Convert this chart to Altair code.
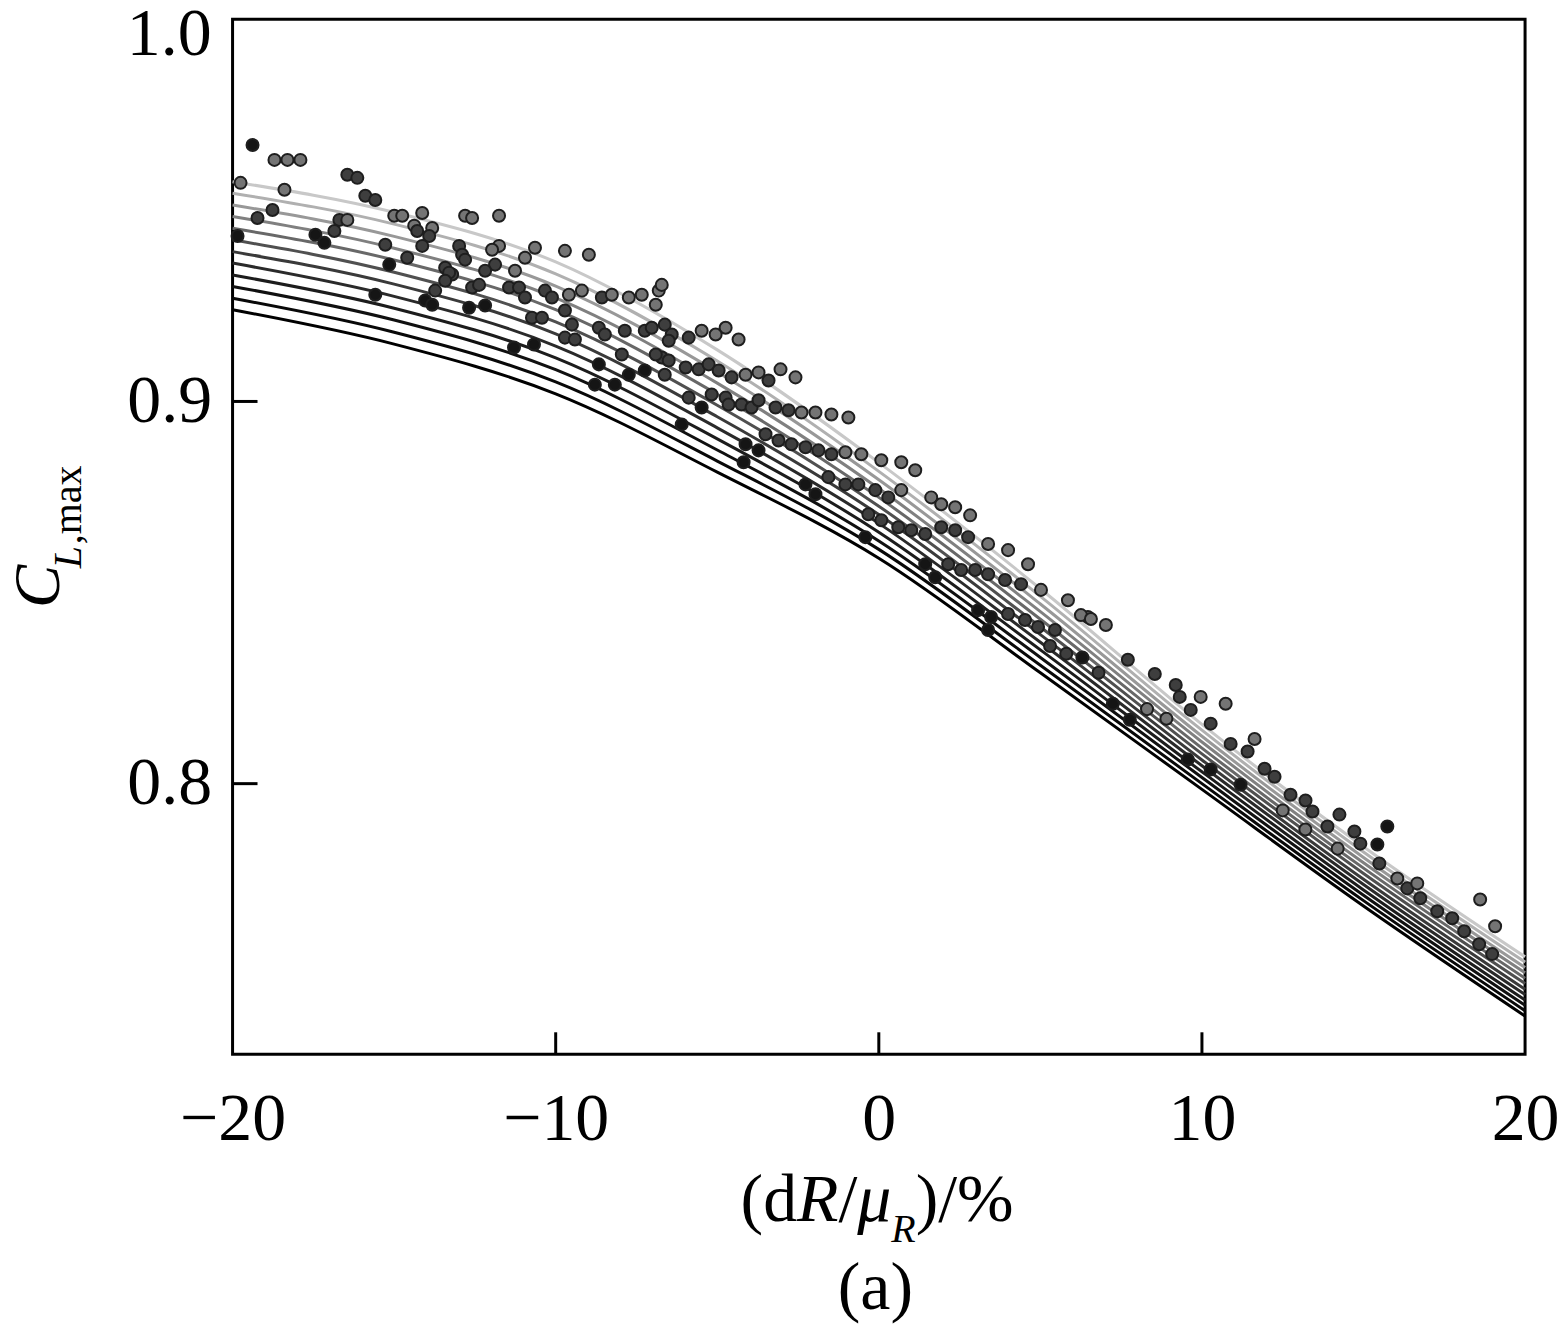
import altair as alt
import pandas as pd

# ---------------- data ----------------
LINE_X = [-20, -15, -10, -5, 0, 5, 10, 15, 20]
LINE_VALUES = [
    [0.9240, 0.9150, 0.9020, 0.8815, 0.8590, 0.8290, 0.7985, 0.7680, 0.7392],
    [0.9270, 0.9181, 0.9051, 0.8844, 0.8613, 0.8310, 0.8000, 0.7694, 0.7406],
    [0.9301, 0.9213, 0.9083, 0.8873, 0.8635, 0.8330, 0.8016, 0.7708, 0.7420],
    [0.9331, 0.9244, 0.9114, 0.8902, 0.8658, 0.8350, 0.8031, 0.7722, 0.7434],
    [0.9362, 0.9275, 0.9145, 0.8931, 0.8681, 0.8370, 0.8047, 0.7736, 0.7448],
    [0.9392, 0.9307, 0.9177, 0.8960, 0.8704, 0.8390, 0.8062, 0.7750, 0.7462],
    [0.9423, 0.9338, 0.9208, 0.8990, 0.8726, 0.8410, 0.8078, 0.7765, 0.7477],
    [0.9453, 0.9370, 0.9240, 0.9019, 0.8749, 0.8430, 0.8093, 0.7779, 0.7491],
    [0.9484, 0.9401, 0.9271, 0.9048, 0.8772, 0.8450, 0.8109, 0.7793, 0.7505],
    [0.9514, 0.9432, 0.9302, 0.9077, 0.8795, 0.8470, 0.8124, 0.7807, 0.7519],
    [0.9545, 0.9464, 0.9334, 0.9106, 0.8817, 0.8490, 0.8140, 0.7821, 0.7533],
    [0.9575, 0.9495, 0.9365, 0.9135, 0.8840, 0.8510, 0.8155, 0.7835, 0.7547],
]
LINE_COLORS = ["#000000", "#080808", "#101010", "#1c1c1c", "#2a2a2a", "#3a3a3a",
               "#505050", "#686868", "#808080", "#989898", "#b0b0b0", "#c8c8c8"]

PT_X = [
    -19.382, -18.703, -18.301, -17.900, -19.753, -18.394, -18.764, -19.228, -19.846,
    -16.448, -16.139, -15.892, -15.583, -16.695, -16.448, -16.849, -17.436, -17.158,
    -15.274, -15.151, -15.583, -14.996, -14.749, -14.131, -14.378, -14.286, -13.822,
    -13.915, -14.595, -14.131, -13.421, -13.205, -12.803, -12.587, -11.753, -12.988,
    -11.753, -12.896, -12.803, -11.969, -11.876, -10.641, -10.950, -9.714, -8.973,
    -13.297, -13.421, -13.730, -14.039, -13.822, -12.587, -12.371, -12.185, -11.444,
    -11.135, -11.259, -10.950, -10.332, -10.116, -9.591, -9.189, -8.571, -8.263,
    -7.737, -7.336, -6.811, -6.718, -12.680, -12.185, -10.734, -10.425, -9.714,
    -9.498, -8.664, -8.479, -7.861, -7.243, -6.625, -6.409, -11.290, -10.672,
    -9.714, -9.405, -8.664, -7.954, -7.737, -7.243, -6.625, -8.788, -8.170, -6.718,
    -6.903, -4.741, -4.340, -5.483, -5.050, -5.884, -6.502, -7.027, -6.903, -6.502,
    -5.977, -5.575, -5.266, -4.958, -4.556, -4.124, -3.722, -3.042, -2.579, -3.413,
    -5.884, -6.100, -5.483, -5.174, -4.741, -4.649, -4.247, -3.938, -3.722, -3.197,
    -2.795, -2.394, -1.961, -1.467, -0.942, -4.124, -4.185, -3.722, -3.506, -3.104,
    -2.703, -2.270, -1.869, -1.467, -1.035, -0.541, 0.077, 0.695, 1.127, -2.270,
    -1.961, -1.560, -1.035, -0.633, -0.108, 0.293, 0.695, 1.622, 1.931, 2.363,
    2.826, -0.324, -0.417, 0.077, 0.602, 1.004, 1.436, 1.931, 2.363, 2.764,
    3.382, 4.000, 4.618, 1.436, 1.745, 2.147, 2.548, 2.981, 3.382, 3.907,
    4.402, 5.019, 5.853, 6.471, 3.073, 3.475, 3.382, 4.000, 4.525, 4.927, 5.452,
    6.255, 6.564, 7.027, 7.707, 8.541, 9.189, 9.961, 10.734, 9.313, 9.653,
    10.270, 11.629, 10.888, 11.413, 11.938, 12.247, 12.741, 13.205, 13.421, 14.255,
    13.884, 14.718, 14.903, 15.737, 15.429, 15.490, 16.046, 16.355, 16.664, 16.757,
    17.282, 17.745, 18.116, 18.610, 19.073, 18.579, 18.981, 7.243, 7.768, 9.560,
    10.270, 11.197, 5.300, 5.800, 6.300, 6.800, 8.300, 8.900, 12.500, 13.200, 14.200,
]
PT_Y = [
    0.9671, 0.9632, 0.9632, 0.9632, 0.9572, 0.9554, 0.9501, 0.9480, 0.9433,
    0.9593, 0.9585, 0.9538, 0.9527, 0.9475, 0.9475, 0.9446, 0.9436, 0.9415,
    0.9410, 0.9358, 0.9279, 0.9486, 0.9486, 0.9493, 0.9460, 0.9446, 0.9454,
    0.9433, 0.9376, 0.9407, 0.9350, 0.9332, 0.9486, 0.9480, 0.9486, 0.9407,
    0.9407, 0.9384, 0.9371, 0.9397, 0.9358, 0.9402, 0.9376, 0.9394, 0.9384,
    0.9337, 0.9316, 0.9290, 0.9264, 0.9253, 0.9298, 0.9305, 0.9342, 0.9298,
    0.9298, 0.9342, 0.9272, 0.9290, 0.9272, 0.9279, 0.9290, 0.9272, 0.9279,
    0.9272, 0.9279, 0.9290, 0.9305, 0.9245, 0.9251, 0.9219, 0.9219, 0.9238,
    0.9201, 0.9193, 0.9175, 0.9185, 0.9185, 0.9201, 0.9175, 0.9141, 0.9149,
    0.9167, 0.9162, 0.9097, 0.9123, 0.9070, 0.9081, 0.9070, 0.9044, 0.9044, 0.9115,
    0.9253, 0.9193, 0.9162, 0.9185, 0.9175, 0.9167, 0.9159, 0.9193, 0.9123, 0.9107,
    0.9089, 0.9084, 0.9097, 0.9081, 0.9063, 0.9070, 0.9076, 0.9084, 0.9063, 0.9055,
    0.9010, 0.8940, 0.8984, 0.9018, 0.9010, 0.8992, 0.8992, 0.8984, 0.9003, 0.8984,
    0.8977, 0.8971, 0.8971, 0.8966, 0.8958, 0.8888, 0.8841, 0.8872, 0.8914, 0.8898,
    0.8888, 0.8880, 0.8872, 0.8862, 0.8867, 0.8862, 0.8846, 0.8841, 0.8820, 0.8783,
    0.8757, 0.8802, 0.8783, 0.8783, 0.8768, 0.8749, 0.8768, 0.8749, 0.8731, 0.8723,
    0.8702, 0.8705, 0.8645, 0.8689, 0.8671, 0.8663, 0.8653, 0.8671, 0.8663, 0.8645,
    0.8627, 0.8611, 0.8574, 0.8574, 0.8540, 0.8574, 0.8559, 0.8559, 0.8548, 0.8533,
    0.8522, 0.8507, 0.8480, 0.8436, 0.8454, 0.8436, 0.8402, 0.8444, 0.8428, 0.8410, 0.8402,
    0.8441, 0.8431, 0.8415, 0.8324, 0.8287, 0.8258, 0.8227, 0.8209, 0.8227, 0.8193,
    0.8157, 0.8117, 0.8104, 0.8084, 0.8039, 0.8018, 0.7971, 0.7956, 0.7927, 0.7919,
    0.7888, 0.7875, 0.7843, 0.7888, 0.7841, 0.7791, 0.7752, 0.7726, 0.7739, 0.7700,
    0.7666, 0.7648, 0.7614, 0.7697, 0.7627, 0.7580, 0.7554, 0.8209, 0.8167, 0.8063,
    0.8037, 0.7997, 0.8360, 0.8340, 0.8330, 0.8290, 0.8195, 0.8170, 0.7930, 0.7880, 0.7830,
]
PT_SHADE = [
    0, 2, 2, 2, 2, 2, 1, 1, 0,
    1, 1, 1, 1, 1, 2, 1, 0, 0,
    1, 0, 0, 2, 2, 2, 2, 1, 2,
    1, 1, 1, 1, 1, 2, 2, 2, 1,
    2, 1, 1, 2, 1, 2, 2, 2, 2,
    1, 1, 1, 0, 0, 1, 1, 1, 1,
    1, 2, 1, 1, 1, 2, 2, 1, 2,
    2, 2, 2, 2, 0, 0, 1, 1, 1,
    1, 1, 1, 1, 1, 1, 1, 0, 0,
    1, 1, 0, 1, 0, 0, 1, 0, 0, 1,
    2, 2, 2, 2, 2, 1, 1, 1, 1, 1,
    1, 1, 1, 1, 1, 2, 2, 2, 2, 1,
    1, 0, 0, 1, 1, 1, 1, 1, 1, 1,
    1, 2, 2, 2, 2, 0, 0, 0, 1, 1,
    1, 1, 1, 1, 2, 2, 2, 2, 2, 0,
    0, 1, 1, 1, 1, 1, 2, 2, 2, 2,
    2, 1, 0, 1, 1, 1, 1, 1, 1, 1,
    2, 2, 2, 0, 0, 1, 1, 1, 1, 1,
    1, 2, 2, 2, 0, 0, 0, 1, 1, 1, 1,
    2, 2, 2, 1, 1, 1, 2, 2, 1, 1,
    1, 2, 1, 1, 1, 1, 1, 1, 1, 1,
    1, 1, 1, 0, 0, 1, 2, 1, 2, 1,
    1, 1, 1, 2, 2, 1, 1, 0, 0, 0,
    0, 0, 1, 1, 0, 1, 2, 2, 2, 2, 2,
]
SHADE_COLORS = ["#151515", "#3e3e3e", "#747474"]

X_TICKS = [-20, -10, 0, 10, 20]
Y_TICKS = [0.8, 0.9]
Y_TOP_LABEL = [1.0]
X_INNER_TICKS = [-10, 0, 10]
Y_INNER_TICKS = [0.8, 0.9]

# ---------------- frames ----------------
W, H = 1295, 1037
FONT = "Liberation Serif"

lines_df = pd.DataFrame(
    [{"x": LINE_X[j], "y": vals[j], "id": i}
     for i, vals in enumerate(LINE_VALUES) for j in range(len(LINE_X))]
)
n = min(len(PT_X), len(PT_Y), len(PT_SHADE))
pts_df = pd.DataFrame({"x": PT_X[:n], "y": PT_Y[:n], "s": PT_SHADE[:n]})

xscale = alt.Scale(domain=[-20, 20], nice=False, zero=False)
yscale = alt.Scale(domain=[0.7292, 1.0], nice=False, zero=False)

x_axis = alt.Axis(values=X_TICKS, format="d", ticks=False, domain=False, grid=False,
                  labelFont=FONT, labelFontSize=68, labelColor="black",
                  labelPadding=31, title=None, labelFlush=False, labelOverlap=False)
y_axis = alt.Axis(values=Y_TICKS, format=".1f", ticks=False, domain=False, grid=False,
                  labelFont=FONT, labelFontSize=68, labelColor="black",
                  labelPadding=21, title=None, labelFlush=False, labelOverlap=False)

lines = alt.Chart(lines_df).mark_line(interpolate="monotone", strokeWidth=3).encode(
    x=alt.X("x:Q", scale=xscale, axis=x_axis, title=None),
    y=alt.Y("y:Q", scale=yscale, axis=y_axis, title=None),
    color=alt.Color("id:N", scale=alt.Scale(domain=list(range(12)), range=LINE_COLORS), legend=None),
    detail="id:N",
)

points = alt.Chart(pts_df).mark_circle(size=145, opacity=1, stroke="#1e1e1e", strokeWidth=2).encode(
    x=alt.X("x:Q", scale=xscale, axis=x_axis, title=None),
    y=alt.Y("y:Q", scale=yscale, axis=y_axis, title=None),
    fill=alt.Fill("s:N", scale=alt.Scale(domain=[0, 1, 2], range=SHADE_COLORS), legend=None),
)

xt = alt.Chart(pd.DataFrame({"x": X_INNER_TICKS})).mark_rule(color="black", strokeWidth=3).encode(
    x=alt.X("x:Q", scale=xscale, axis=x_axis, title=None),
    y=alt.value(H), y2=alt.value(H - 22),
)
yt = alt.Chart(pd.DataFrame({"y": Y_INNER_TICKS})).mark_rule(color="black", strokeWidth=3).encode(
    y=alt.Y("y:Q", scale=yscale, axis=y_axis, title=None),
    x=alt.value(0), x2=alt.value(25),
)

# top tick label "1.0" (kept inside the page like the reference)
top_label = alt.Chart(pd.DataFrame({"y": Y_TOP_LABEL})).mark_text(
    align="right", baseline="middle", font=FONT, fontSize=68, color="black", dy=16
).encode(
    y=alt.Y("y:Q", scale=yscale, axis=y_axis, title=None),
    x=alt.value(-21),
    text=alt.Text("y:Q", format=".1f"),
)

one = alt.Data(values=[{"a": 1}])


def txt(s, x, y, size=68, style="normal", angle=0, align="left"):
    kw = dict(align=align, baseline="alphabetic", font=FONT, fontSize=size,
              fontStyle=style, color="black")
    if angle:
        kw["angle"] = angle
    return alt.Chart(one).mark_text(**kw).encode(
        x=alt.value(x), y=alt.value(y), text=alt.value(s))


texts = [
    # y title  C_{L,max}
    txt("C", -174, 590, size=65, style="italic", angle=270),
    txt("L", -152, 550, size=40, style="italic", angle=270),
    txt(",max", -152, 526, size=40, angle=270),
    # x title  (dR/mu_R)/%
    txt("(d", 509, 1204),
    txt("R", 565.6, 1204, style="italic"),
    txt("/", 607.1, 1204),
    txt("\u03bc", 626, 1204, style="italic"),
    txt("R", 660, 1225, size=40, style="italic"),
    txt(")/%", 684.4, 1204),
    # panel label
    txt("(a)", 644, 1292, align="center"),
]

chart = alt.layer(lines, points, xt, yt, top_label, *texts).resolve_scale(
    color="independent", fill="independent"
).properties(
    width=W, height=H,
    padding={"left": 225, "top": 10, "right": 34, "bottom": 270},
    autosize=alt.AutoSizeParams(type="none"),
).configure_view(stroke="black", strokeWidth=3)

chart.save("out.html", embed_options={"renderer": "svg", "actions": False})
